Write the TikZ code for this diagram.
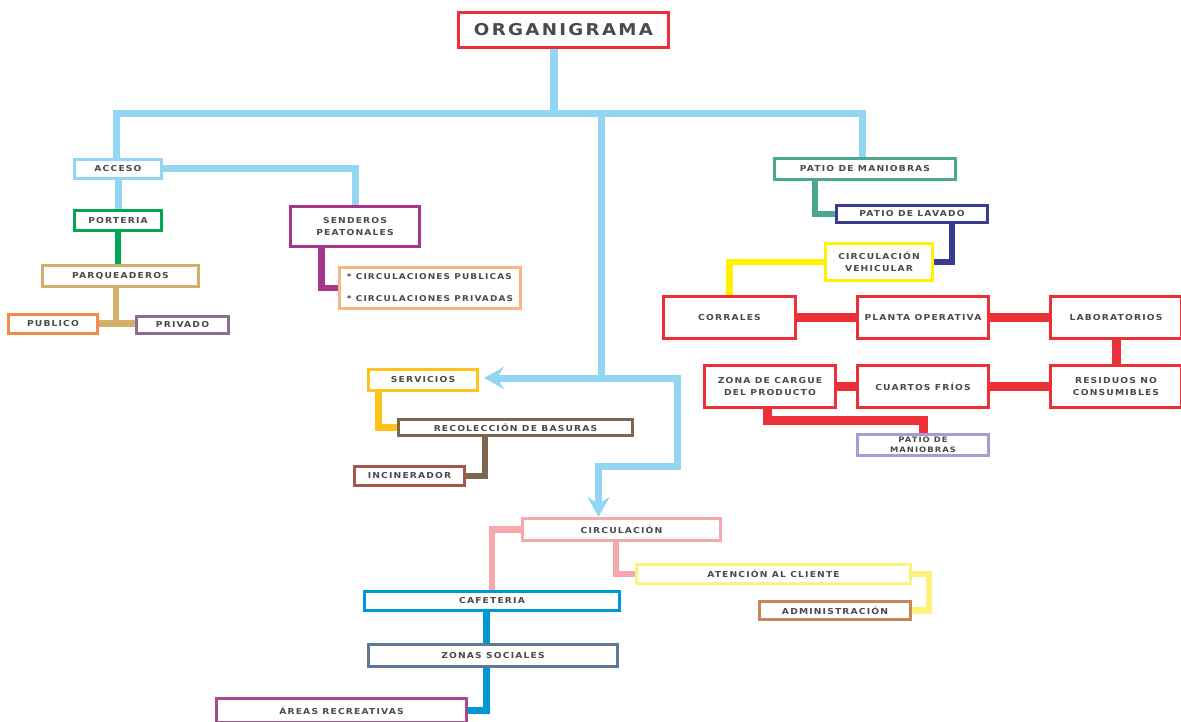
\documentclass[tikz,border=0pt]{standalone}
\usepackage{fontspec}
\setmainfont{DejaVu Sans}[FakeStretch=1.12, LetterSpace=14]
\usetikzlibrary{arrows.meta,backgrounds}
\definecolor{cred}{HTML}{EC3038}
\definecolor{clblue}{HTML}{93D6F4}
\definecolor{cgreen}{HTML}{00A650}
\definecolor{ctan}{HTML}{D4AE6B}
\definecolor{corange}{HTML}{F48B4D}
\definecolor{cpriv}{HTML}{8C6E8F}
\definecolor{cmag}{HTML}{A5358D}
\definecolor{clorange}{HTML}{FAB381}
\definecolor{cteal}{HTML}{4DA690}
\definecolor{cnavy}{HTML}{3A3A92}
\definecolor{cyellow}{HTML}{FFF100}
\definecolor{cgold}{HTML}{FDC31B}
\definecolor{cbrown}{HTML}{7C6650}
\definecolor{cincin}{HTML}{A3584B}
\definecolor{cpink}{HTML}{F5A9AD}
\definecolor{cpyellow}{HTML}{FDF27E}
\definecolor{cadmin}{HTML}{C98658}
\definecolor{cblue}{HTML}{0097D7}
\definecolor{cslate}{HTML}{5F7897}
\definecolor{careas}{HTML}{A24C8B}
\definecolor{clav}{HTML}{A89DD2}
\definecolor{ctext}{HTML}{4A4A4A}
\newcommand\lab{\fontsize{8.2}{12}\selectfont\bfseries}
\tikzset{
  cbox/.style={draw=#1, line width=3pt, fill=white, inner sep=0pt, font=\lab, text=ctext, align=center},
  conn/.style={draw=#1, line width=6.5pt, line join=miter},
  fat/.style={draw=#1, line width=9pt, line join=miter},
  blueline/.style={draw=clblue, line width=7pt, line join=miter},
  bigtip/.tip={Stealth[length=20pt 0 0, width=22pt 0 0, inset=7pt 0 0]}
}
\begin{document}
\begin{tikzpicture}[x=1pt,y=-1pt]
\useasboundingbox (0,0) rectangle (1181,722);
% nodes
\node[cbox=cred, minimum width=210pt, minimum height=35pt, font=\fontsize{16.3}{18}\selectfont\bfseries] (org) at (563.5,30) {ORGANIGRAMA};
\node[cbox=clblue, minimum width=87pt, minimum height=19pt] (acceso) at (118,169) {ACCESO};
\node[cbox=cgreen, minimum width=87pt, minimum height=20pt] (porteria) at (118,220.5) {PORTERIA};
\node[cbox=ctan, minimum width=156pt, minimum height=21pt] (parq) at (120.5,276) {PARQUEADEROS};
\node[cbox=corange, minimum width=89pt, minimum height=19pt] (publico) at (53,324) {PUBLICO};
\node[cbox=cpriv, minimum width=92pt, minimum height=17pt] (privado) at (182.5,325) {PRIVADO};
\node[cbox=cmag, minimum width=129pt, minimum height=40pt] (senderos) at (355,226.5) {SENDEROS\\PEATONALES};
\node[cbox=clorange, minimum width=181pt, minimum height=41pt, align=left, font=\fontsize{8}{22}\selectfont\bfseries] (circpriv) at (430,288) {* CIRCULACIONES PUBLICAS\\* CIRCULACIONES PRIVADAS};
\node[cbox=cteal, minimum width=181pt, minimum height=21pt] (patioman) at (865,169) {PATIO DE MANIOBRAS};
\node[cbox=cnavy, minimum width=151pt, minimum height=17pt] (lavado) at (912,214) {PATIO DE LAVADO};
\node[cbox=cyellow, minimum width=107pt, minimum height=37pt] (circveh) at (879,262) {CIRCULACIÓN\\VEHICULAR};
\node[cbox=cred, minimum width=132pt, minimum height=42pt] (corrales) at (729.5,317.5) {CORRALES};
\node[cbox=cred, minimum width=131pt, minimum height=42pt] (planta) at (923,317.5) {PLANTA OPERATIVA};
\node[cbox=cred, minimum width=131pt, minimum height=42pt] (lab) at (1116,317.5) {LABORATORIOS};
\node[cbox=cred, minimum width=131pt, minimum height=42pt] (zona) at (770,386.5) {ZONA DE CARGUE\\DEL PRODUCTO};
\node[cbox=cred, minimum width=131pt, minimum height=42pt] (cuartos) at (923,386.5) {CUARTOS FRÍOS};
\node[cbox=cred, minimum width=131pt, minimum height=42pt] (residuos) at (1116,386.5) {RESIDUOS NO\\CONSUMIBLES};
\node[cbox=clav, minimum width=131pt, minimum height=21pt, font=\fontsize{7.5}{10.5}\selectfont\bfseries] (patio2) at (923,445) {PATIO DE\\MANIOBRAS};
\node[cbox=cgold, minimum width=109pt, minimum height=21pt] (servicios) at (423,380) {SERVICIOS};
\node[cbox=cbrown, minimum width=234pt, minimum height=16pt] (recol) at (515.5,427.5) {RECOLECCIÓN DE BASURAS};
\node[cbox=cincin, minimum width=110pt, minimum height=19pt] (incin) at (409.5,476) {INCINERADOR};
\node[cbox=cpink, minimum width=198pt, minimum height=22pt] (circ) at (621.5,529.5) {CIRCULACIÓN};
\node[cbox=cpyellow, minimum width=274pt, minimum height=19pt] (atencion) at (773.5,574) {ATENCIÓN AL CLIENTE};
\node[cbox=cadmin, minimum width=151pt, minimum height=18pt] (admin) at (835,610.5) {ADMINISTRACIÓN};
\node[cbox=cblue, minimum width=255pt, minimum height=19pt] (cafe) at (492,601) {CAFETERIA};
\node[cbox=cslate, minimum width=249pt, minimum height=22pt] (zonas) at (493,655.5) {ZONAS SOCIALES};
\node[cbox=careas, minimum width=250pt, minimum height=24pt] (areas) at (341.5,710.5) {ÁREAS RECREATIVAS};
% junction coordinates
\coordinate (hb) at (554,114);
\coordinate (bl) at (116,114);
\coordinate (br) at (862,114);
\coordinate (m1) at (601,114);
\coordinate (m2) at (601,378);
\coordinate (m3) at (677,378);
\coordinate (m4) at (677,466);
\coordinate (m5) at (598.5,466);
\coordinate (pj) at (116,323.5);
\coordinate (zj) at (923,420.5);
\coordinate (aj) at (929,590);
\begin{pgfonlayer}{background}
% light blue
\draw[blueline, line width=8pt] (org.south -| hb) -- (hb);
\draw[blueline] (acceso.north -| bl) -- (bl) -- (br) -- (patioman.north -| br);
\draw[blueline] (m1) -- (m2);
\draw[blueline] (acceso.east) -| (senderos.north);
\draw[blueline] (acceso.south) -- (porteria.north);
\draw[blueline, bigtip-bigtip, shorten <=5pt] (servicios.east |- m3) -- (m3) -- (m4) -- (m5) -- (m5 |- circ.north);
% left branch
\draw[conn=cgreen] (porteria.south) -- (porteria.south |- parq.north);
\draw[conn=ctan] (parq.south -| pj) -- (pj);
\draw[conn=ctan] (publico.east |- pj) -- (privado.west |- pj);
\draw[conn=cmag] ([xshift=-33.5pt]senderos.south) |- (circpriv.west);
% right branch
\draw[conn=cteal] ([xshift=-50pt]patioman.south) |- (lavado.west);
\draw[conn=cnavy] ([xshift=40pt]lavado.south) |- (circveh.east);
\draw[conn=cyellow] (circveh.west) -| (corrales.north);
\draw[fat=cred] (corrales.east) -- (planta.west);
\draw[fat=cred] (planta.east) -- (lab.west);
\draw[fat=cred] (lab.south) -- (residuos.north);
\draw[fat=cred] (zona.east) -- (cuartos.west);
\draw[fat=cred] (cuartos.east) -- (residuos.west);
\draw[fat=cred] ([xshift=-3pt]zona.south) |- (zj) -- (patio2.north);
% middle
\draw[conn=cgold] ([xshift=-44.5pt]servicios.south) |- (recol.west);
\draw[conn=cbrown] ([xshift=-30.5pt]recol.south) |- (incin.east);
% bottom
\draw[conn=cpink] (circ.west) -| (cafe.north);
\draw[conn=cpink] ([xshift=-5.5pt]circ.south) |- (atencion.west);
\draw[conn=cpyellow] (atencion.east) -| (aj) |- (admin.east);
\draw[conn=cblue] ([xshift=-5.5pt]cafe.south) -- ([xshift=-5.5pt]cafe.south |- zonas.north);
\draw[conn=cblue] ([xshift=-6.5pt]zonas.south) |- (areas.east);
\end{pgfonlayer}
\end{tikzpicture}
\end{document}
